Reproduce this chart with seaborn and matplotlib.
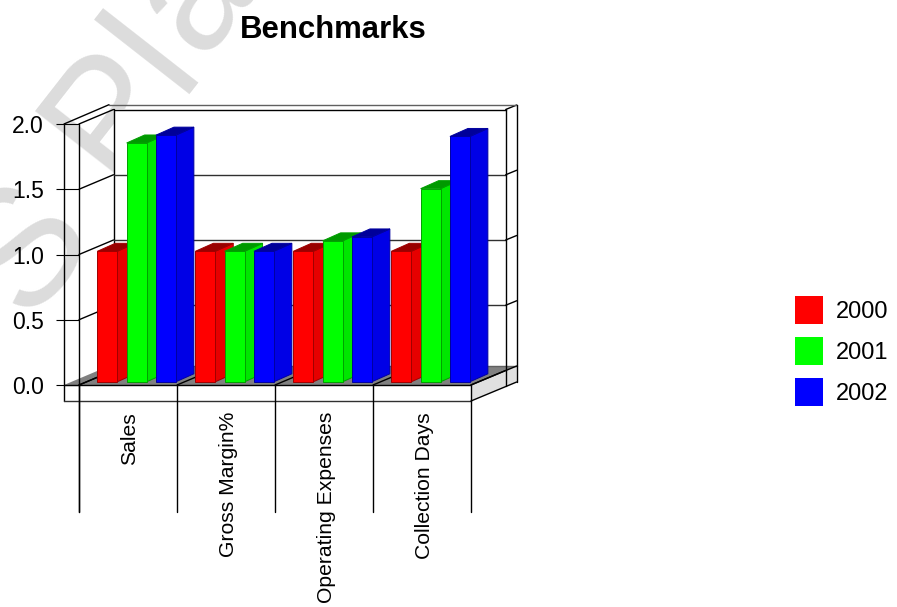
# Benchmarks chart: 3D-looking grouped bars on a boxed frame

import matplotlib
matplotlib.use("Agg")
import matplotlib.pyplot as plt
from matplotlib.lines import Line2D
from matplotlib.patches import Polygon, Rectangle
from matplotlib.transforms import Affine2D, IdentityTransform
import pandas as pd
import seaborn as sns

categories = ["Sales", "Gross Margin%", "Operating Expenses", "Collection Days"]
years = ["2000", "2001", "2002"]
values_2000 = [1.0, 1.0, 1.0, 1.0]
values_2001 = [1.83, 1.0, 1.08, 1.48]
values_2002 = [1.89, 1.0, 1.11, 1.88]
y_ticks = [0.0, 0.5, 1.0, 1.5, 2.0]

front_colors = ["#ff0000", "#00ff00", "#0000ff"]
side_colors = ["#e60000", "#00e600", "#0000e6"]
top_colors = ["#990000", "#009900", "#000099"]
edge_colors = ["#a00000", "#00a000", "#0000a0"]

W, H = 897, 607
FONT = "Liberation Sans"
WATERMARK = "#dcdcdc"

sns.set_style("white")
plt.rcParams["font.family"] = [FONT, "DejaVu Sans"]
plt.rcParams["text.color"] = "black"
plt.rcParams["xtick.labelcolor"] = "black"
plt.rcParams["ytick.labelcolor"] = "black"


def px(x, y):
    """Reference pixel (origin top left) to display coordinates."""
    return (x, H - y)


def frame(ax, x0, y0, x1, y1, color="black", lw=1.0, z=2):
    ax.add_line(Line2D(*zip(px(x0, y0), px(x1, y1)), color=color, lw=lw, zorder=z,
                       transform=IdentityTransform(), clip_on=False))


def fill(ax, points, color, z=1):
    ax.add_patch(Polygon([px(*p) for p in points], closed=True, facecolor=color, edgecolor="none",
                         zorder=z, transform=IdentityTransform(), clip_on=False))


df = pd.DataFrame({
    "category": categories * 3,
    "year": sum([[y] * 4 for y in years], []),
    "value": values_2000 + values_2001 + values_2002,
})

fig = plt.figure(figsize=(W / 100, H / 100), dpi=100, facecolor="white")
ax = fig.add_axes([79 / W, (H - 385) / H, 392 / W, 261 / H])
ax.patch.set_visible(False)

sns.barplot(data=df, x="category", y="value", hue="year", hue_order=years,
            palette=front_colors, saturation=1, width=0.897, gap=0.32, ax=ax)
handles, labels = ax.get_legend_handles_labels()
ax.get_legend().remove()

ax.set_xlim(-0.5, 3.5)
ax.set_ylim(0, 2)
ax.set_xlabel("")
ax.set_ylabel("")
sns.despine(ax=ax, left=True, bottom=True)
ax.set_yticks(y_ticks, [f"{t:.1f}" for t in y_ticks])
ax.tick_params(axis="y", left=True, length=16.6, width=0.8, pad=8.6, labelsize=16.5, color="black")
ax.tick_params(axis="x", bottom=False, length=0, pad=19.5, labelsize=15.2, labelrotation=90)
for lab in ax.get_xticklabels():
    lab.set_va("top")
    lab.set_ha("center")
    lab.set_transform(lab.get_transform() + Affine2D().translate(2, 0))

fig.canvas.draw()

# back wall and floor
fill(ax, [(113.5, 109), (505.7, 109), (505.7, 371), (113.5, 371)], "white", z=0.5)
fill(ax, [(64, 385), (471, 385), (516.7, 366), (109, 366)], "#808080", z=1.2)
fill(ax, [(471, 385), (471, 401), (516.7, 382), (516.7, 366)], "#e0e0e0", z=1.2)

# gridlines and wall ticks from the value scale
for t in y_ticks:
    y_px = H - ax.transData.transform((0, t))[1]
    if t > 0:
        frame(ax, 113.5, y_px - 14.5, 505.7, y_px - 14.5, color="#303030" if t < 2 else "black")
        frame(ax, 505.7, y_px - 14.5, 516.7, y_px - 19)
    frame(ax, 79, y_px, 113.5, y_px - 14.5, z=1.5)

frame(ax, 64, 124, 109, 104.7)
frame(ax, 109, 104.7, 516.7, 104.7, color="#606060")
frame(ax, 64, 124, 64, 401)
frame(ax, 79, 124, 79, 512)
frame(ax, 113.5, 109, 113.5, 371, z=1)
frame(ax, 505.7, 109, 505.7, 386)
frame(ax, 516.7, 104.7, 516.7, 382)
frame(ax, 64, 385, 471, 385, z=2)
frame(ax, 64, 401, 471, 401, color="#303030")
frame(ax, 471, 385, 516.7, 366, z=2)
frame(ax, 471, 401, 516.7, 382)
frame(ax, 109, 366, 516.7, 366, color="#606060", z=1.3)

# category dividers, running across the floor and down past the labels
for i in range(len(categories) + 1):
    x_px = ax.transData.transform((i - 0.5, 0))[0]
    frame(ax, x_px, 385, x_px, 512)
    frame(ax, x_px, 385, x_px + 34.5, 370.5, z=1.5)

# extrude every seaborn bar, left to right so later bars cover earlier sides
FACE_DX, FACE_DY = 8.6, 3.2
DEPTH_DX, DEPTH_DY = 18, 8
bars = [b for b in ax.patches if isinstance(b, Rectangle) and b.get_height() > 0]
n_cat = len(categories)
for idx, bar in enumerate(bars):
    hue_i = idx // n_cat
    z = 3 + bar.get_x() + 0.5
    (x0, y0), (x1, y1) = ax.transData.transform([(bar.get_x(), 0),
                                                 (bar.get_x() + bar.get_width(), bar.get_height())])
    x0, x1 = x0 + FACE_DX, x1 + FACE_DX
    y0, y1 = y0 + FACE_DY, y1 + FACE_DY
    side = [(x1, y0), (x1 + DEPTH_DX, y0 + DEPTH_DY), (x1 + DEPTH_DX, y1 + DEPTH_DY), (x1, y1)]
    top = [(x0, y1), (x0 + DEPTH_DX, y1 + DEPTH_DY), (x1 + DEPTH_DX, y1 + DEPTH_DY), (x1, y1)]
    for pts, col in ((side, side_colors[hue_i]), (top, top_colors[hue_i])):
        ax.add_patch(Polygon(pts, closed=True, facecolor=col, edgecolor=edge_colors[hue_i], lw=0.7,
                             zorder=z, transform=IdentityTransform(), clip_on=False))
    bar.set_transform(ax.transData + Affine2D().translate(FACE_DX, FACE_DY))
    bar.set_edgecolor(edge_colors[hue_i])
    bar.set_linewidth(0.7)
    bar.set_zorder(z + 0.1)
    bar.set_clip_on(False)

# legend
for h, c in zip(handles, front_colors):
    h.set_edgecolor("none")
    h.set_facecolor(c)
leg = fig.legend(handles, labels, loc="center left", bbox_to_anchor=(788 / W, 1 - 351 / H),
                 frameon=False, fontsize=17, handlelength=1.2, handleheight=1.42,
                 labelspacing=0.58, handletextpad=0.54, borderpad=0.3, borderaxespad=0)

fig.suptitle("Benchmarks", x=333 / W, y=1 - 30 / H, va="center", ha="center",
             fontsize=22.4, fontweight="bold", family=FONT, color="black")

# faint watermark behind the chart
wm_letters = ["S", "P", "l", "a"]
wm_x = [27, 113, 156, 195]
wm_y = [250, 112, 53, -5]
for ch, x, y in zip(wm_letters, wm_x, wm_y):
    fig.text(x / W, 1 - y / H, ch, color=WATERMARK, fontsize=120, rotation=52, rotation_mode="anchor",
             ha="center", va="center", zorder=-1, family=FONT)

fig.savefig("out.png", dpi=100)
